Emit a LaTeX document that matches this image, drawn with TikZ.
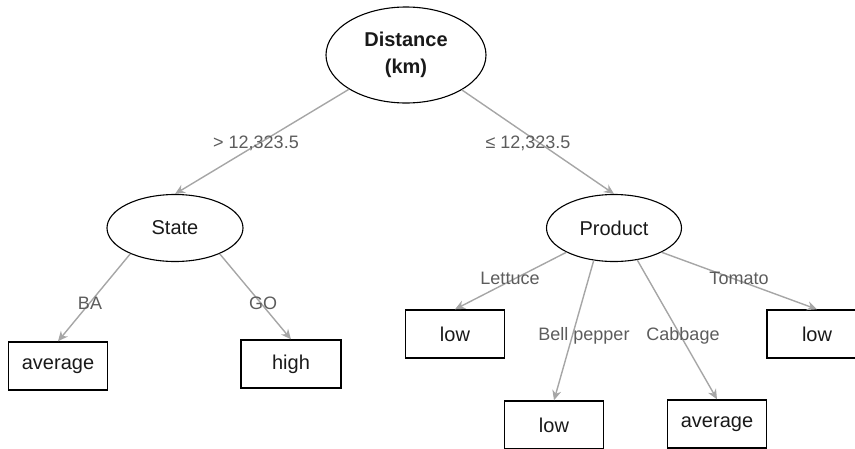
\documentclass[tikz,border=0pt]{standalone}
\usepackage{fontspec}
\setmainfont{Liberation Sans}
\usetikzlibrary{shapes.geometric,arrows.meta}
\definecolor{edgegray}{HTML}{A6A6A6}
\definecolor{labgray}{HTML}{5C5C5C}
\tikzset{
  splitnode/.style={ellipse, draw=black, line width=1.1pt, inner sep=0pt, text=black!90, font=\fontsize{20}{25}\selectfont},
  leafnode/.style={rectangle, draw=black, line width=1.4pt, minimum width=99pt, minimum height=48pt, inner sep=0pt, text=black!90, font=\fontsize{20}{24}\selectfont},
  edgelab/.style={text=labgray, inner sep=0pt, font=\fontsize{18}{22}\selectfont},
  branch/.style={draw=edgegray, line width=1.4pt, -{Stealth[length=10pt,width=9pt]}}
}
\begin{document}
\begin{tikzpicture}[x=1pt,y=-1pt]
\useasboundingbox (0,0) rectangle (855,448);
% split nodes
\node[splitnode, minimum width=160pt, minimum height=96pt, align=center, font=\fontsize{20}{27}\selectfont\bfseries] (root) at (406,55) {Distance\\(km)};
\node[splitnode, minimum width=136pt, minimum height=67pt] (state) at (175,228) {State};
\node[splitnode, minimum width=135pt, minimum height=67pt] (product) at (614,228) {Product};
% leaves
\node[leafnode] (avg1) at (58,366) {average};
\node[leafnode, minimum width=100pt] (high) at (291,364) {high};
\node[leafnode] (low1) at (455,334) {low};
\node[leafnode, minimum width=100pt] (low4) at (817,334) {low};
\node[leafnode] (low2) at (554,425) {low};
\node[leafnode] (avg2) at (717,424) {average};
% edges
\draw[branch] (root.211) -- (state.north);
\draw[branch] (root.328) -- (product.north);
\draw[branch] (state.210) -- (avg1.north);
\draw[branch] (state.330) -- (high.north);
\draw[branch] (product.207) -- (low1.north);
\draw[branch] (product.238) -- (low2.north);
\draw[branch] (product.306) -- (avg2.north);
\draw[branch] (product.333) -- (low4.north);
% edge labels
\node[edgelab] (l1) at (256,143) {> 12,323.5};
\node[edgelab] (l2) at (528,143) {≤ 12,323.5};
\node[edgelab] (l3) at (90,303) {BA};
\node[edgelab] (l4) at (263,303) {GO};
\node[edgelab] (l5) at (510,278) {Lettuce};
\node[edgelab] (l6) at (739,278) {Tomato};
\node[edgelab] (l7) at (584,336) {Bell pepper};
\node[edgelab] (l8) at (683,336) {Cabbage};
\end{tikzpicture}
\end{document}
